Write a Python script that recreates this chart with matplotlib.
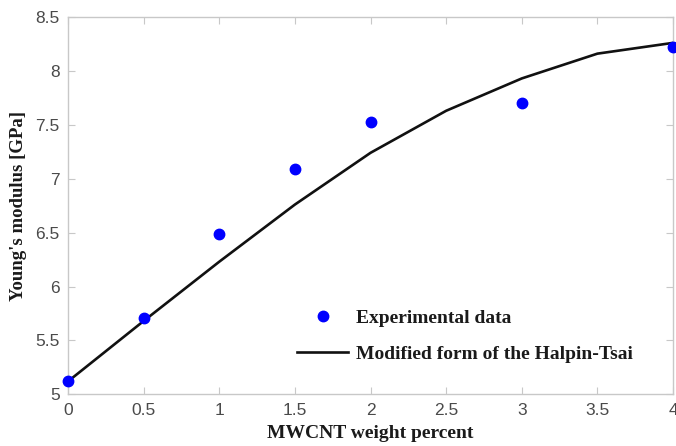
import matplotlib
matplotlib.use('Agg')
import matplotlib.pyplot as plt

## experimental points and model curve
wt_exp = [0, 0.5, 1, 1.5, 2, 3, 4]
E_exp = [5.125, 5.71, 6.49, 7.09, 7.525, 7.70, 8.22]

wt_model = [0, 0.5, 1, 1.5, 2, 2.5, 3, 3.5, 4]
E_model = [5.12, 5.68, 6.23, 6.76, 7.24, 7.63, 7.93, 8.16, 8.26]

xticks = [0, 0.5, 1, 1.5, 2, 2.5, 3, 3.5, 4]
xticklabels = ['0', '0.5', '1', '1.5', '2', '2.5', '3', '3.5', '4']
yticks = [5, 5.5, 6, 6.5, 7, 7.5, 8, 8.5]
yticklabels = ['5', '5.5', '6', '6.5', '7', '7.5', '8', '8.5']

serif = ['Liberation Serif', 'DejaVu Serif']
axis_grey = '#c8c8c8'
tick_grey = '#4a4a4a'

fig = plt.figure(figsize=(6.76, 4.46), dpi=100)
ax = fig.add_axes([0.1006, 0.1159, 0.895, 0.846])

ax.plot(wt_exp, E_exp, 'o', color='#0000ff', markersize=7.5,
        linestyle='none', label='Experimental data', zorder=3, clip_on=False)
ax.plot(wt_model, E_model, '-', color='#111111', linewidth=1.9,
        label='Modified form of the Halpin-Tsai', zorder=2)

ax.set_xlim(0, 4)
ax.set_ylim(5, 8.5)
ax.set_xticks(xticks)
ax.set_xticklabels(xticklabels)
ax.set_yticks(yticks)
ax.set_yticklabels(yticklabels)

for sp in ax.spines.values():
    sp.set_color(axis_grey)
    sp.set_linewidth(1.0)
ax.tick_params(direction='in', length=5, width=0.8, color=axis_grey,
               top=True, right=True, labelsize=12.5, labelcolor=tick_grey, pad=6)
for lab in ax.get_xticklabels() + ax.get_yticklabels():
    lab.set_family(['Liberation Sans', 'DejaVu Sans'])

ax.set_xlabel('MWCNT weight percent', family=serif, fontweight='bold',
              fontsize=14, color='#1a1a1a', labelpad=5)
ax.set_ylabel("Young's modulus [GPa]", family=serif, fontweight='bold',
              fontsize=13.5, color='#1a1a1a', labelpad=6)

leg = ax.legend(loc='lower right', bbox_to_anchor=(0.962, 0.037), frameon=False,
                prop={'family': serif, 'weight': 'bold', 'size': 14},
                handlelength=2.6, handletextpad=0.4, labelspacing=0.95,
                markerscale=1.0)
for t in leg.get_texts():
    t.set_color('#1a1a1a')

plt.savefig('out.png', dpi=100)
